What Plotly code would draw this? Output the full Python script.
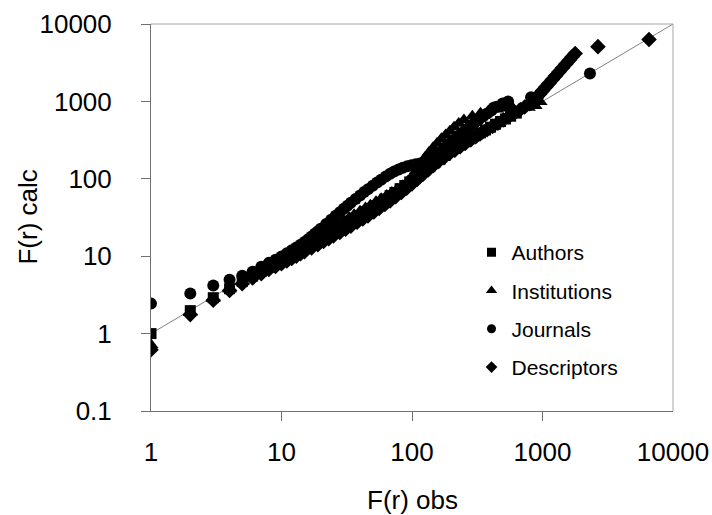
import plotly.graph_objects as go

# ---------------- data ----------------
authors_x = [1, 2, 3, 4, 5, 6, 7, 8, 9, 10, 11, 12, 13, 14, 15, 16, 18, 20, 22, 24, 26, 28, 31, 34, 37, 40,
             44, 48, 52, 57, 62, 68, 74, 81, 88, 96, 105, 115, 125, 137, 150, 164, 180, 197, 215, 235, 257,
             281, 307, 335, 366, 400, 437, 477, 520, 570, 630]
authors_y = [1.0, 1.98, 2.91, 3.8, 4.7, 5.52, 6.37, 7.2, 8.0, 8.8, 9.68, 10.4, 11.3, 12.0, 12.9, 13.8, 15.3,
             17.0, 18.7, 20.2, 21.8, 23.5, 26.0, 28.6, 31.1, 33.6, 37.4, 40.8, 44.7, 49.6, 54.6, 60.5, 66.6,
             74.5, 81.8, 91.2, 102, 115, 128, 144, 162, 180, 202, 225, 247, 273, 301, 329, 359, 392, 428,
             464, 507, 549, 593, 644, 706]

institutions_x = [1, 2, 3, 4, 5, 6, 7, 8, 9, 10, 11, 12, 13, 14, 15, 16, 18, 20, 22, 24, 27, 30, 33, 36, 40,
                  44, 48, 53, 58, 64, 70, 77, 85, 93, 102, 110, 118, 126, 135, 145, 156, 168, 181, 195, 210,
                  228, 250, 290, 335, 385, 445, 510, 590, 680, 780, 880, 960]
institutions_y = [0.72, 1.86, 2.82, 3.76, 4.7, 5.7, 6.65, 7.6, 8.55, 9.5, 10.45, 11.4, 12.35, 13.3, 14.25,
                  15.2, 17.1, 19.0, 20.9, 22.8, 25.7, 28.5, 31.4, 34.2, 38.0, 41.8, 45.6, 50.4, 55.1, 60.8,
                  66.5, 73.2, 81.5, 93, 112, 134, 160, 189, 219, 252, 289, 328, 369, 413, 462, 518, 575,
                  644, 704, 751, 792, 816, 826, 816, 835, 880, 990]

journals_x = [1, 2, 3, 4, 5, 6, 7, 8, 9, 10, 11, 12, 13, 14, 15, 16, 17, 18, 19, 20, 22, 24, 26, 28, 30, 32,
              34, 37, 40, 43, 46, 50, 54, 58, 63, 68, 73, 79, 85, 92, 99, 107, 115, 124, 133, 143, 154, 166,
              179, 193, 208, 224, 241, 260, 280, 302, 325, 350, 377, 406, 425, 448, 495, 545, 817, 2310]
journals_y = [2.44, 3.3, 4.17, 4.98, 5.6, 6.3, 7.3, 8.2, 9.0, 9.9, 10.9, 11.9, 13.0, 14.1, 15.3, 16.6, 18.0,
              19.5, 21.0, 22.6, 26.0, 29.6, 33.3, 37.0, 41.0, 45.0, 49.0, 55.0, 61.0, 67.5, 73.5, 81.5,
              89.5, 97.5, 107, 116, 124, 132, 139, 145, 150, 154, 158, 163, 173, 186, 204, 226, 253, 283,
              316, 352, 392, 435, 480, 530, 585, 640, 700, 760, 832, 855, 940, 1000, 1130, 2290]

descriptors_x = [1, 2, 3, 4, 5, 6, 7, 8, 9, 10, 11, 12, 13, 14, 15, 17, 19, 21, 23, 25, 28, 31, 34, 38, 42,
                 46, 51, 56, 62, 68, 75, 83, 91, 100, 110, 121, 133, 146, 160, 176, 194, 213, 234, 257, 283,
                 311, 342, 376, 414, 455, 500, 550, 605, 665, 730, 800, 850, 900, 950, 1000, 1060, 1120,
                 1190, 1260, 1340, 1420, 1510, 1600, 1690, 1780, 2660, 6550]
descriptors_y = [0.62, 1.76, 2.7, 3.6, 4.4, 5.22, 5.95, 6.72, 7.38, 8.0, 8.69, 9.36, 10.0, 10.8, 11.4, 12.75,
                 14.1, 15.5, 16.8, 18.25, 20.2, 22.3, 24.5, 27.4, 30.2, 33.1, 37.2, 41.4, 46.5, 51.7, 58.5,
                 66.4, 75.5, 86, 99, 114, 130, 149, 168, 188, 212, 234, 260, 288, 320, 355, 393, 432, 476,
                 523, 575, 633, 696, 765, 847, 936, 1000, 1117, 1240, 1368, 1531, 1703, 1914, 2138, 2408,
                 2692, 3032, 3390, 3768, 4166, 5100, 6300]

diag_x = [1, 10000]
diag_y = [1, 10000]

x_tickvals = [1, 10, 100, 1000, 10000]
x_ticktext = ["1", "10", "100", "1000", "10000"]
y_tickvals = [0.1, 1, 10, 100, 1000, 10000]
y_ticktext = ["0.1", "1", "10", "100", "1000", "10000"]

series = [
    ("Authors", authors_x, authors_y, "square", 11, 9),
    ("Institutions", institutions_x, institutions_y, "triangle-up", 13, 10),
    ("Journals", journals_x, journals_y, "circle", 12, 9),
    ("Descriptors", descriptors_x, descriptors_y, "diamond", 12, 9),
]

FONT = "Arial, Liberation Sans, sans-serif"

fig = go.Figure()
fig.add_trace(go.Scatter(x=diag_x, y=diag_y, mode="lines",
                         line=dict(color="#808080", width=1),
                         showlegend=False, hoverinfo="skip"))

for name, xs, ys, sym, size, _ in series:
    fig.add_trace(go.Scatter(x=xs, y=ys, mode="markers", name=name,
                             marker=dict(symbol=sym, size=size, color="black", line=dict(width=0)),
                             showlegend=False))

for name, xs, ys, sym, size, lsize in series:
    fig.add_trace(go.Scatter(x=[None], y=[None], mode="markers", name=name, legendgroup=name,
                             marker=dict(symbol=sym, size=lsize, color="black", line=dict(width=0)),
                             showlegend=True))

fig.update_layout(
    width=712, height=515,
    margin=dict(l=151, r=39, t=24, b=104, autoexpand=False),
    paper_bgcolor="white", plot_bgcolor="white",
    font=dict(family=FONT, color="black", size=26),
    showlegend=True,
    legend=dict(x=0.614, y=0.4625, xanchor="left", yanchor="top",
                bgcolor="rgba(0,0,0,0)", font=dict(size=21, family=FONT),
                tracegroupgap=8, itemsizing="trace"),
    xaxis=dict(type="log", range=[0, 4], showgrid=False, zeroline=False, automargin=False,
               showline=True, linecolor="#707070", linewidth=1,
               tickmode="array", tickvals=x_tickvals, ticktext=x_ticktext,
               ticks="", ticklabelstandoff=18,
               tickfont=dict(size=26, family=FONT),
               minor=dict(tickmode="array", tickvals=[10, 100, 1000], ticks="outside",
                          ticklen=9, tickcolor="#707070", tickwidth=1, showgrid=False)),
    yaxis=dict(type="log", range=[-1, 4], showgrid=False, zeroline=False, automargin=False,
               showline=True, linecolor="#707070", linewidth=1,
               tickmode="array", tickvals=y_tickvals, ticktext=y_ticktext,
               ticks="outside", ticklen=9, tickcolor="#707070", tickwidth=1,
               ticklabelstandoff=24,
               tickfont=dict(size=26, family=FONT)),
    shapes=[
        dict(type="line", xref="paper", yref="paper", x0=0, x1=1, y0=1, y1=1,
             line=dict(color="#a6a6a6", width=1)),
        dict(type="line", xref="paper", yref="paper", x0=1, x1=1, y0=0, y1=1,
             line=dict(color="#a6a6a6", width=1)),
    ],
    annotations=[
        dict(text="F(r) calc", xref="paper", yref="paper", x=-0.2375, y=0.5,
             textangle=-90, showarrow=False, xanchor="center", yanchor="middle",
             font=dict(size=26, family=FONT)),
        dict(text="F(r) obs", xref="paper", yref="paper", x=0.5, y=-0.23,
             showarrow=False, xanchor="center", yanchor="middle",
             font=dict(size=26, family=FONT)),
    ],
)

# remove the default page margin so the 712x515 figure fills the window exactly
fig.write_html("out.html",
               config={"displayModeBar": False},
               post_script="document.body.style.margin='0';document.body.style.overflow='hidden';")
